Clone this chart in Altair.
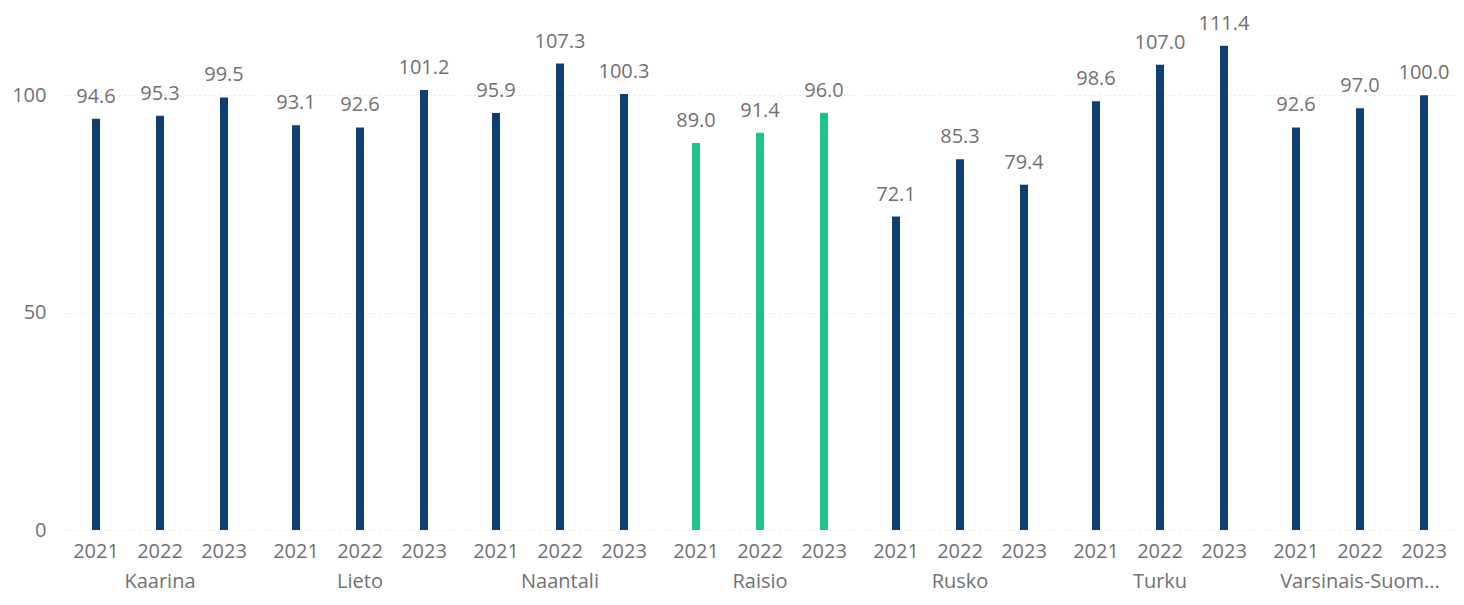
import altair as alt
import pandas as pd

municipalities = ["Kaarina", "Lieto", "Naantali", "Raisio", "Rusko", "Turku", "Varsinais-Suomi"]
years = ["2021", "2022", "2023"]
values_2021 = [94.6, 93.1, 95.9, 89.0, 72.1, 98.6, 92.6]
values_2022 = [95.3, 92.6, 107.3, 91.4, 85.3, 107.0, 97.0]
values_2023 = [99.5, 101.2, 100.3, 96.0, 79.4, 111.4, 100.0]
highlighted = "Raisio"

rows = []
for i, m in enumerate(municipalities):
    for y, vals in zip(years, [values_2021, values_2022, values_2023]):
        rows.append({"muni": m, "year": y, "value": vals[i],
                     "grp": "hl" if m == highlighted else "base"})
df = pd.DataFrame(rows)

FONT = "Open Sans"
TXT = "#717171"

base = alt.Chart().encode(
    x=alt.X("year:O", sort=years,
            scale=alt.Scale(paddingInner=0, paddingOuter=0),
            axis=alt.Axis(title=None, labelAngle=0, ticks=False, domain=False,
                          labelFontSize=20, labelFont=FONT, labelColor=TXT,
                          labelPadding=11, grid=False)),
    y=alt.Y("value:Q",
            scale=alt.Scale(domain=[0, 118], nice=False),
            axis=alt.Axis(title=None, values=[0, 50, 100], ticks=False, domain=False,
                          labelFontSize=20, labelFont=FONT, labelColor=TXT,
                          labelPadding=18, grid=True, gridColor="#d6d6d6",
                          gridDash=[1, 4], gridWidth=1)),
)

bars = base.mark_bar(size=8).encode(
    color=alt.Color("grp:N", legend=None,
                    scale=alt.Scale(domain=["base", "hl"], range=["#0e3f72", "#1dc28f"]))
)

labels = base.mark_text(baseline="bottom", dy=-12, fontSize=20, font=FONT, color=TXT).encode(
    text=alt.Text("value:Q", format=".1f")
)

chart = alt.layer(bars, labels, data=df).properties(
    width=192, height=513
).facet(
    column=alt.Column("muni:N", sort=municipalities, title=None,
                      header=alt.Header(labelOrient="bottom", labelFontSize=20,
                                        labelFont=FONT, labelColor=TXT, labelPadding=11,
                                        labelExpr="length(datum.label) > 14 ? slice(datum.label, 0, 14) + '...' : datum.label")),
    spacing=8
).properties(
    padding={"left": 3, "top": 5, "right": 0, "bottom": 4},
    background="white"
).configure_view(
    strokeWidth=0,
    stroke="transparent"
)

chart.save("out.html", embed_options={"renderer": "svg", "actions": False})
